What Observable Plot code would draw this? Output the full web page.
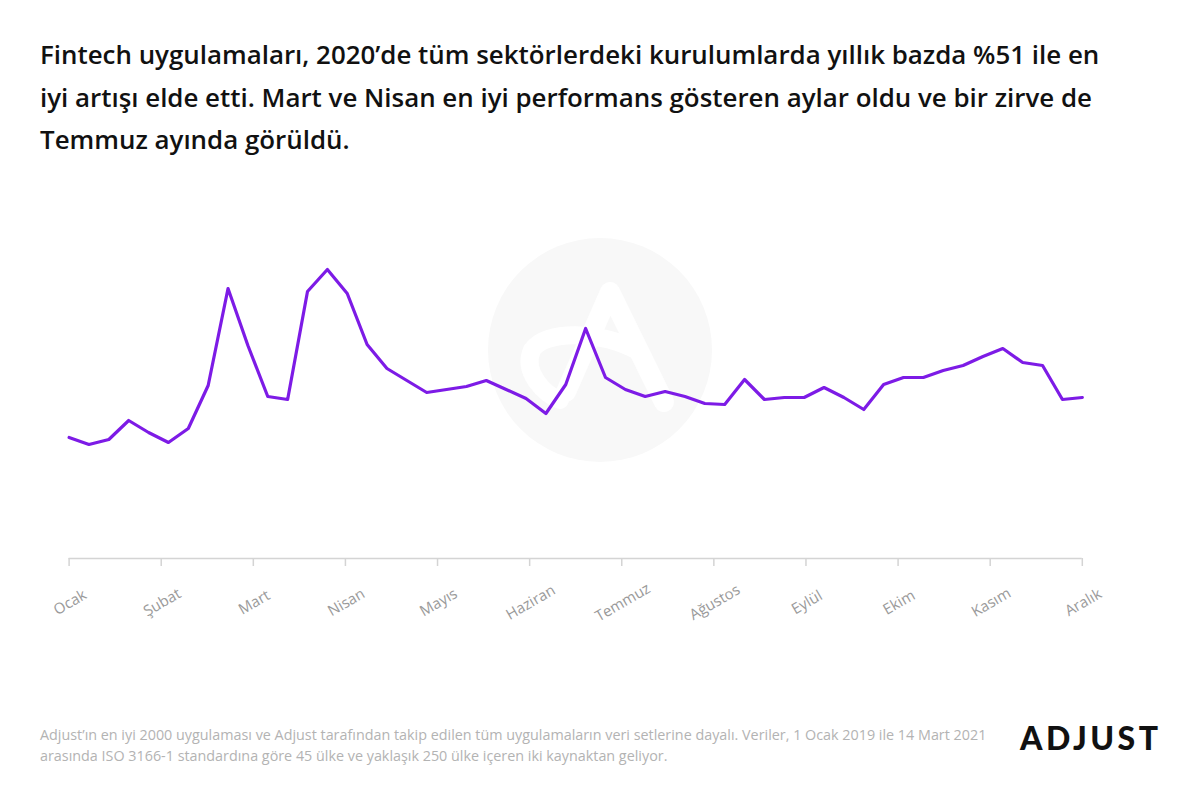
<!DOCTYPE html>
<html>
<head>
<meta charset="utf-8">
<script src="https://cdn.jsdelivr.net/npm/d3@7"></script>
<script src="https://cdn.jsdelivr.net/npm/@observablehq/plot@0.6"></script>
<style>
  html, body { margin: 0; padding: 0; background: #fff; }
  body { width: 1200px; height: 799px; position: relative; overflow: hidden; font-family: "Open Sans", Lato, sans-serif; }
  #title { position: absolute; left: 40px; top: 33px; width: 1140px; font-size: 25.9px; font-weight: 600; line-height: 42.5px; color: #111; white-space: nowrap; }
  #watermark { position: absolute; left: 0; top: 0; }
  #chart { position: absolute; left: 0; top: 200px; }
  #caption { position: absolute; left: 40px; top: 724px; font-size: 14.35px; line-height: 21px; color: #b3b3b3; white-space: nowrap; }
  #logo { position: absolute; left: 1020px; top: 718px; font-family: Lato, sans-serif; font-size: 32px; font-weight: 900; letter-spacing: 3.5px; color: #111; }
</style>
</head>
<body>
<div id="title">Fintech uygulamaları, 2020’de tüm sektörlerdeki kurulumlarda yıllık bazda %51 ile en<br>iyi artışı elde etti. Mart ve Nisan en iyi performans gösteren aylar oldu ve bir zirve de<br>Temmuz ayında görüldü.</div>
<svg id="watermark" width="1200" height="799">
  <circle cx="600" cy="350" r="112" fill="#f8f8f8"></circle>
  <path d="M566 392 L610 292 L664 402" fill="none" stroke="#fff" stroke-width="20" stroke-linejoin="round" stroke-linecap="round"></path>
  <path d="M640 352 C600 330 545 330 532 350 C522 372 545 395 560 400" fill="none" stroke="#fff" stroke-width="18" stroke-linecap="round"></path>
</svg>
<div id="chart"></div>
<div id="caption">Adjust’ın en iyi 2000 uygulaması ve Adjust tarafından takip edilen tüm uygulamaların veri setlerine dayalı. Veriler, 1 Ocak 2019 ile 14 Mart 2021<br>arasında ISO 3166-1 standardına göre 45 ülke ve yaklaşık 250 ülke içeren iki kaynaktan geliyor.</div>
<div id="logo">ADJUST</div>
<script>
// Weekly index of fintech installs in 2020 (relative units)
const weeks = d3.range(52);
const values = [
  1.21, 1.14, 1.19, 1.38, 1.26, 1.16, 1.30, 1.73, 2.70, 2.13,
  1.62, 1.59, 2.67, 2.89, 2.65, 2.14, 1.90, 1.78, 1.66, 1.69,
  1.72, 1.78, 1.69, 1.60, 1.45, 1.74, 2.30, 1.81, 1.69, 1.62,
  1.67, 1.62, 1.55, 1.54, 1.79, 1.59, 1.61, 1.61, 1.71, 1.61,
  1.49, 1.74, 1.81, 1.81, 1.88, 1.93, 2.02, 2.10, 1.96, 1.93,
  1.59, 1.61
];
const months = ["Ocak", "Şubat", "Mart", "Nisan", "Mayıs", "Haziran", "Temmuz", "Ağustos", "Eylül", "Ekim", "Kasım", "Aralık"];
const monthPos = months.map((m, i) => i * 51 / 11);

const data = weeks.map((w, i) => ({week: w, value: values[i]}));
const labels = months.map((m, i) => ({name: m, pos: monthPos[i]}));

const plot = Plot.plot({
  width: 1200,
  height: 460,
  marginLeft: 68.6,
  marginRight: 118.2,
  marginTop: 58,
  marginBottom: 102,
  style: {background: "transparent", fontFamily: "'Open Sans', Lato, sans-serif"},
  x: {domain: [0, 51], axis: null},
  y: {domain: [0, 3], axis: null},
  marks: [
    Plot.ruleY([0], {stroke: "#d4d4d4", strokeWidth: 1.5}),
    Plot.ruleX(monthPos, {x: d => d, y1: 0, y2: 0, insetBottom: -8, stroke: "#d4d4d4", strokeWidth: 1.5}),
    Plot.text(labels, {x: "pos", text: "name", frameAnchor: "bottom", dy: 44, dx: 1, rotate: -30, textAnchor: "middle", lineAnchor: "middle", fill: "#9a9a9a", fontSize: 15}),
    Plot.line(data, {x: "week", y: "value", stroke: "#7d1be6", strokeWidth: 3.2, strokeLinejoin: "round", strokeLinecap: "round"})
  ]
});
document.getElementById("chart").appendChild(plot);
</script>
</body>
</html>
